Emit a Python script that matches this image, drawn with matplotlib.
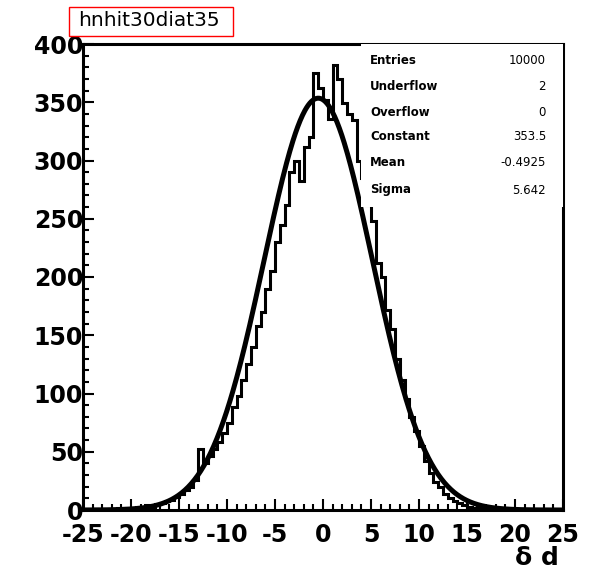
import numpy as np
import matplotlib.pyplot as plt
from matplotlib.patches import Rectangle
from matplotlib.ticker import MultipleLocator

plt.rcParams['font.family'] = ['DejaVu Sans']
plt.rcParams['axes.unicode_minus'] = False

# histogram: 100 bins of width 0.5 from -25 to 25
edges = np.linspace(-25, 25, 101)
counts = [
    0, 0, 1, 0, 1, 0, 1, 2, 1, 2,
    2, 3, 2, 4, 3, 5, 6, 8, 9, 11,
    14, 17, 20, 26, 52, 40, 46, 52, 58, 66,
    75, 88, 98, 112, 125, 140, 158, 170, 190, 205,
    230, 245, 262, 290, 300, 282, 312, 320, 375, 362,
    352, 336, 382, 370, 349, 340, 335, 300, 285, 262,
    248, 212, 200, 172, 155, 130, 112, 95, 80, 68,
    55, 42, 32, 24, 20, 14, 10, 8, 6, 4,
    3, 2, 2, 1, 1, 0, 1, 0, 0, 0,
    0, 0, 0, 0, 0, 0, 0, 0, 0, 0,
]

# gaussian fit results
fit_const = 353.5
fit_mean = -0.4925
fit_sigma = 5.642

stat_names = ['Entries', 'Underflow', 'Overflow', 'Constant', 'Mean', 'Sigma']
stat_values = ['10000', '2', '0', '353.5', '-0.4925', '5.642']

W, H = 599, 576
fig = plt.figure(figsize=(W / 100, H / 100), dpi=100)
ax = fig.add_axes([83 / W, 66 / H, 480 / W, 466 / H])

ax.stairs(counts, edges, color='black', lw=2.2)
xf = np.linspace(-25, 25, 600)
ax.plot(xf, fit_const * np.exp(-0.5 * ((xf - fit_mean) / fit_sigma) ** 2),
        color='black', lw=3.6)

ax.set_xlim(-25, 25)
ax.set_ylim(0, 400)
ax.xaxis.set_major_locator(MultipleLocator(5))
ax.xaxis.set_minor_locator(MultipleLocator(1))
ax.yaxis.set_major_locator(MultipleLocator(50))
ax.yaxis.set_minor_locator(MultipleLocator(10))
ax.tick_params(which='both', direction='in', width=1.5, top=False, right=False)
ax.tick_params(which='major', length=8)
ax.tick_params(which='minor', length=4)
ax.tick_params(axis='x', pad=9)
ax.tick_params(axis='y', pad=0)
for lab in ax.get_xticklabels() + ax.get_yticklabels():
    lab.set_fontsize(17)
    lab.set_fontweight('bold')
for sp in ax.spines.values():
    sp.set_linewidth(2.2)

# stats box
fig.add_artist(Rectangle((361 / W, 1 - 207 / H), (563 - 361) / W, (207 - 44) / H,
                         transform=fig.transFigure, facecolor='white',
                         edgecolor='none', zorder=5))
row_y = [60, 86, 112, 137, 163, 190]
for name, val, yy in zip(stat_names, stat_values, row_y):
    fig.text(370 / W, 1 - yy / H, name, fontsize=8.5, fontweight='bold',
             va='center', ha='left', zorder=6)
    fig.text(546 / W, 1 - yy / H, val, fontsize=8.5, va='center', ha='right',
             zorder=6)

# title box
fig.add_artist(Rectangle((69 / W, 1 - 36 / H), (233 - 69) / W, 29 / H,
                         transform=fig.transFigure, fill=False,
                         edgecolor='red', lw=1))
fig.text(149 / W, 1 - 21 / H, 'hnhit30diat35', fontsize=14.5, ha='center',
         va='center')

fig.text(559 / W, 1 - 558 / H, 'δ d', fontsize=18, fontweight='bold',
         ha='right', va='center')

fig.savefig('out.png', dpi=100)
